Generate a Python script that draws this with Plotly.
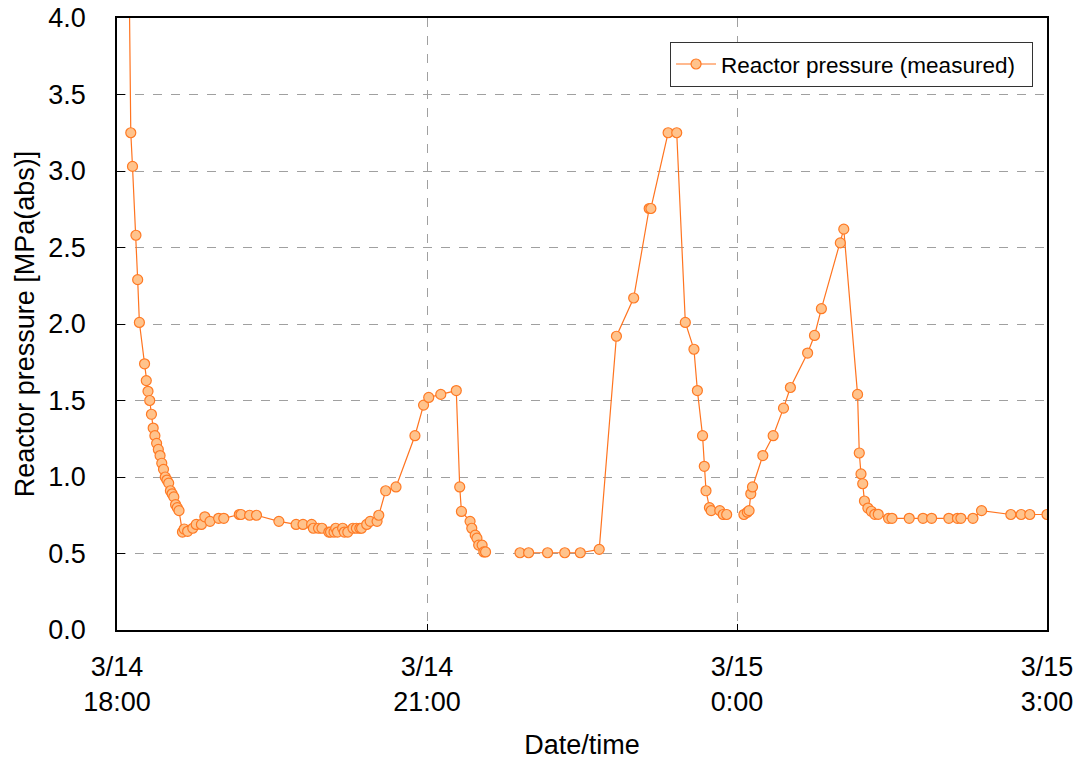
import plotly.graph_objects as go
import pandas as pd

# Measured times (3/14 -> 3/15) and reactor pressure [MPa(abs)]; None marks a gap in the record
times = [
    "2011-03-14 18:06", "2011-03-14 18:08", "2011-03-14 18:09", "2011-03-14 18:11", "2011-03-14 18:12",
    "2011-03-14 18:13", "2011-03-14 18:16", "2011-03-14 18:17", "2011-03-14 18:18", "2011-03-14 18:19",
    "2011-03-14 18:20", "2011-03-14 18:21", "2011-03-14 18:22", "2011-03-14 18:23", "2011-03-14 18:24",
    "2011-03-14 18:25", "2011-03-14 18:26", "2011-03-14 18:27", "2011-03-14 18:28", "2011-03-14 18:29",
    "2011-03-14 18:30", "2011-03-14 18:31", "2011-03-14 18:32", "2011-03-14 18:33", "2011-03-14 18:34",
    "2011-03-14 18:35", "2011-03-14 18:36", "2011-03-14 18:38", "2011-03-14 18:39", "2011-03-14 18:41",
    "2011-03-14 18:44", "2011-03-14 18:46", "2011-03-14 18:49", "2011-03-14 18:51", "2011-03-14 18:54",
    "2011-03-14 18:59", "2011-03-14 19:02", "2011-03-14 19:11", "2011-03-14 19:12", "2011-03-14 19:17",
    "2011-03-14 19:21", "2011-03-14 19:34", "2011-03-14 19:44", "2011-03-14 19:48", "2011-03-14 19:53",
    "2011-03-14 19:54", "2011-03-14 19:57", "2011-03-14 19:59", "2011-03-14 20:03", "2011-03-14 20:04",
    "2011-03-14 20:06", "2011-03-14 20:07", "2011-03-14 20:08", "2011-03-14 20:11", "2011-03-14 20:12",
    "2011-03-14 20:14", "2011-03-14 20:17", "2011-03-14 20:19", "2011-03-14 20:21", "2011-03-14 20:22",
    "2011-03-14 20:25", "2011-03-14 20:27", "2011-03-14 20:31", "2011-03-14 20:32", "2011-03-14 20:36",
    "2011-03-14 20:42", "2011-03-14 20:53", "2011-03-14 20:58", "2011-03-14 21:01", "2011-03-14 21:08",
    "2011-03-14 21:17", "2011-03-14 21:19", "2011-03-14 21:20", "2011-03-14 21:25", "2011-03-14 21:26",
    "2011-03-14 21:28", "2011-03-14 21:29", "2011-03-14 21:30", "2011-03-14 21:32", "2011-03-14 21:33",
    "2011-03-14 21:34", "2011-03-14 21:44", "2011-03-14 21:54", "2011-03-14 21:59", "2011-03-14 22:10",
    "2011-03-14 22:20", "2011-03-14 22:29", "2011-03-14 22:40", "2011-03-14 22:50", "2011-03-14 23:00",
    "2011-03-14 23:09", "2011-03-14 23:10", "2011-03-14 23:20", "2011-03-14 23:25", "2011-03-14 23:30",
    "2011-03-14 23:35", "2011-03-14 23:37", "2011-03-14 23:40", "2011-03-14 23:41", "2011-03-14 23:42",
    "2011-03-14 23:44", "2011-03-14 23:45", "2011-03-14 23:50", "2011-03-14 23:52", "2011-03-14 23:54",
    "2011-03-15 00:00", "2011-03-15 00:04", "2011-03-15 00:06", "2011-03-15 00:07", "2011-03-15 00:08",
    "2011-03-15 00:09", "2011-03-15 00:15", "2011-03-15 00:21", "2011-03-15 00:27", "2011-03-15 00:31",
    "2011-03-15 00:41", "2011-03-15 00:45", "2011-03-15 00:49", "2011-03-15 01:00", "2011-03-15 01:02",
    "2011-03-15 01:10", "2011-03-15 01:11", "2011-03-15 01:12", "2011-03-15 01:13", "2011-03-15 01:14",
    "2011-03-15 01:16", "2011-03-15 01:18", "2011-03-15 01:20", "2011-03-15 01:22", "2011-03-15 01:28",
    "2011-03-15 01:30", "2011-03-15 01:40", "2011-03-15 01:48", "2011-03-15 01:53", "2011-03-15 02:03",
    "2011-03-15 02:08", "2011-03-15 02:10", "2011-03-15 02:17", "2011-03-15 02:22", "2011-03-15 02:39",
    "2011-03-15 02:45", "2011-03-15 02:50", "2011-03-15 03:00",
]
pressure = [
    5.40, 3.25, 3.03, 2.58, 2.29,
    2.01, 1.74, 1.63, 1.56, 1.50,
    1.41, 1.32, 1.27, 1.22, 1.18,
    1.14, 1.09, 1.05, 1.00, 0.98,
    0.96, 0.91, 0.89, 0.87, 0.82,
    0.80, 0.78, 0.64, 0.66, 0.645,
    0.665, 0.69, 0.69, 0.74, 0.71,
    0.73, 0.73, 0.755, 0.755, 0.75,
    0.75, 0.71, 0.69, 0.69, 0.69,
    0.665, 0.665, 0.665, 0.64, 0.64,
    0.64, 0.665, 0.64, 0.665, 0.64,
    0.64, 0.665, 0.665, 0.665, 0.665,
    0.69, 0.71, 0.71, 0.75, 0.91,
    0.935, 1.27, 1.47, 1.52, 1.54,
    1.565, 0.935, 0.775, 0.71, 0.665,
    0.62, 0.60, 0.555, 0.555, 0.51,
    0.51, None, 0.505, 0.505, 0.505,
    0.505, 0.505, 0.527, 1.92, 2.17,
    2.755, 2.755, 3.25, 3.25, 2.01,
    1.835, 1.565, 1.27, 1.07, 0.91,
    0.80, 0.78, 0.78, 0.755, 0.755,
    None, 0.755, 0.77, 0.78, 0.89,
    0.935, 1.14, 1.27, 1.45, 1.585,
    1.81, 1.925, 2.10, 2.53, 2.62,
    1.54, 1.157, 1.02, 0.956, 0.843,
    0.797, 0.776, 0.756, 0.756, 0.73,
    0.73, 0.73, 0.73, 0.73, 0.73,
    0.73, 0.73, 0.73, 0.78, 0.755,
    0.755, 0.755, 0.755,
]

x_tick_vals = ["2011-03-14 18:00", "2011-03-14 21:00", "2011-03-15 00:00", "2011-03-15 03:00"]
x_tick_text = ["3/14<br>18:00", "3/14<br>21:00", "3/15<br>0:00", "3/15<br>3:00"]
y_tick_vals = [0.0, 0.5, 1.0, 1.5, 2.0, 2.5, 3.0, 3.5, 4.0]

series_name = "Reactor pressure (measured)"

fig = go.Figure()
fig.add_trace(go.Scatter(
    x=pd.to_datetime(times), y=pressure, name=series_name,
    mode="lines+markers", connectgaps=False,
    line=dict(color="#FF7420", width=1.2),
    marker=dict(symbol="circle", size=10, color="#FFC38C",
                line=dict(color="#FF7A24", width=1.2)),
    showlegend=True,
))

font_family = "Liberation Sans, Arial, sans-serif"
fig.update_layout(
    width=1078, height=760,
    margin=dict(l=117, r=31, t=18, b=130, autoexpand=False),
    paper_bgcolor="white", plot_bgcolor="white",
    font=dict(family=font_family, size=27, color="#000000"),
    showlegend=True,
    legend=dict(
        orientation="h", entrywidth=306, entrywidthmode="pixels",
        x=0.985, xanchor="right", y=0.961, yanchor="top",
        bgcolor="white", bordercolor="#333333", borderwidth=1,
        font=dict(size=22.5), itemwidth=40,
    ),
    xaxis=dict(
        range=[pd.Timestamp("2011-03-14 18:00"), pd.Timestamp("2011-03-15 03:00")],
        tickmode="array", tickvals=pd.to_datetime(x_tick_vals), ticktext=x_tick_text,
        ticks="inside", ticklen=6, tickcolor="#000000",
        showgrid=True, gridcolor="#A0A0A0", griddash="dash", gridwidth=1,
        showline=True, linecolor="#000000", linewidth=1.5, mirror=True,
        title=dict(text="Date/time", standoff=26, font=dict(size=27)),
        zeroline=False, tickfont=dict(size=27), ticklabelstandoff=12,
        ticklabeloverflow="allow", automargin=False,
    ),
    yaxis=dict(
        range=[0, 4.0],
        tickmode="array", tickvals=y_tick_vals, tickformat=".1f",
        ticks="inside", ticklen=8, tickcolor="#000000",
        showgrid=True, gridcolor="#A0A0A0", griddash="dash", gridwidth=1,
        showline=True, linecolor="#000000", linewidth=1.5, mirror=True,
        title=dict(text="Reactor pressure [MPa(abs)]", standoff=6, font=dict(size=27)),
        zeroline=False, tickfont=dict(size=27), ticklabelstandoff=24,
        ticklabeloverflow="allow", automargin=False,
    ),
)

fig.write_html("out.html", config={"displayModeBar": False},
               post_script="document.body.style.margin='0';")
